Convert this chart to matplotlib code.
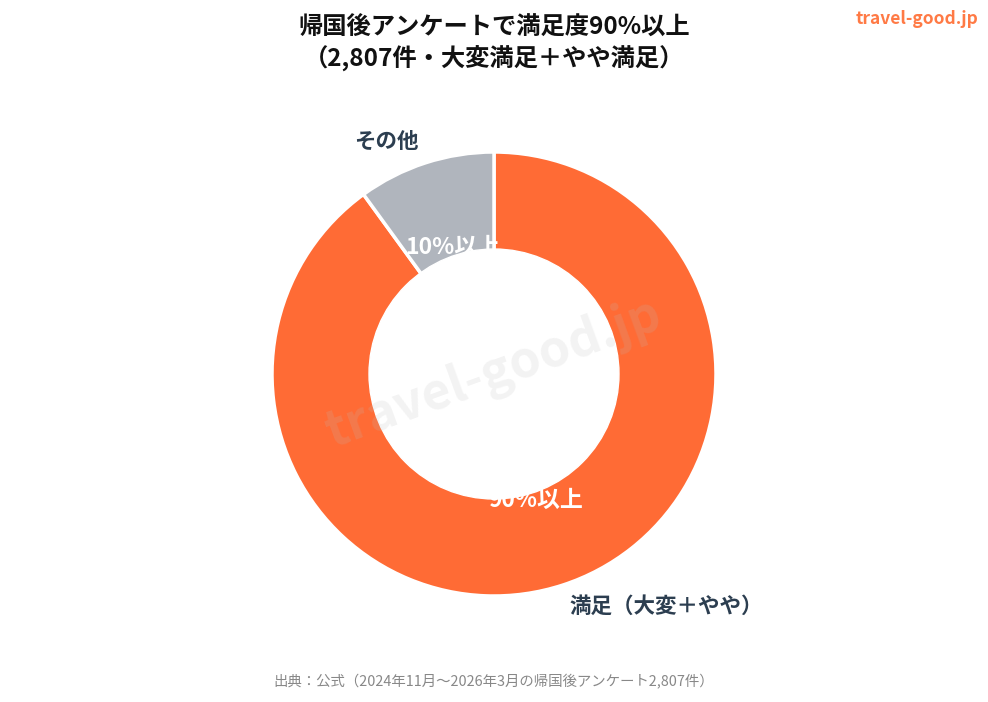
import matplotlib
matplotlib.use("Agg")
import matplotlib.pyplot as plt
import numpy as np

plt.rcParams['font.family'] = ['Noto Sans CJK JP', 'DejaVu Sans']

categories = ["満足（大変＋やや）", "その他"]
values = [90, 10]
inner_labels = ["90%以上", "10%以上"]
colors = ["#FF6B35", "#B0B5BD"]
title = "帰国後アンケートで満足度90%以上\n（2,807件・大変満足＋やや満足）"
source = "出典：公式（2024年11月〜2026年3月の帰国後アンケート2,807件）"
brand = "travel-good.jp"

fig = plt.figure(figsize=(9.88, 7.02), dpi=100)
ax = fig.add_axes([0.5 - 0.5 * 444 / 988, (702 - 374 - 222) / 702, 444 / 988, 444 / 702])
ax.set_aspect('equal')
ax.axis('off')

wedges, _ = ax.pie(values, colors=colors, startangle=90, counterclock=False,
                   radius=1.0, center=(0, 0),
                   wedgeprops=dict(edgecolor='white', linewidth=2.5))
ax.set_xlim(-1, 1)
ax.set_ylim(-1, 1)

total = sum(values)
start = 90.0
for w, v, lab, cat in zip(wedges, values, inner_labels, categories):
    ang = start - v / total * 360 / 2
    start -= v / total * 360
    r = np.deg2rad(ang)
    ax.text(0.6 * np.cos(r), 0.6 * np.sin(r), lab, color='white', fontsize=16.5,
            fontweight='bold', ha='center', va='center', zorder=3)
    ha = 'left' if np.cos(r) > 0 else 'right'
    ax.text(1.1 * np.cos(r), 1.1 * np.sin(r), cat, color='#2C3E50', fontsize=15.5,
            fontweight='bold', ha=ha, va='center', zorder=3)

hole = plt.Circle((0, 0), 0.563, color='white', zorder=4)
ax.add_patch(hole)

fig.text(0.5, 1 - 374 / 702, brand,
         fontsize=36, fontweight='bold', color='#BBBBBB', alpha=0.18,
         rotation=20, ha='center', va='center', zorder=10)

fig.text(0.5, 1 - 44 / 702, title, fontsize=17.5, fontweight='bold', color='#111111',
         ha='center', va='center', linespacing=1.3)
fig.text(1 - 10 / 988, 1 - 19 / 702, brand, fontsize=12.5, fontweight='bold',
         color='#FF7A45', ha='right', va='center')
fig.text(0.5, 1 - 682 / 702, source, fontsize=10.4, color='#888888',
         ha='center', va='center')

fig.savefig("out.png", dpi=100)
